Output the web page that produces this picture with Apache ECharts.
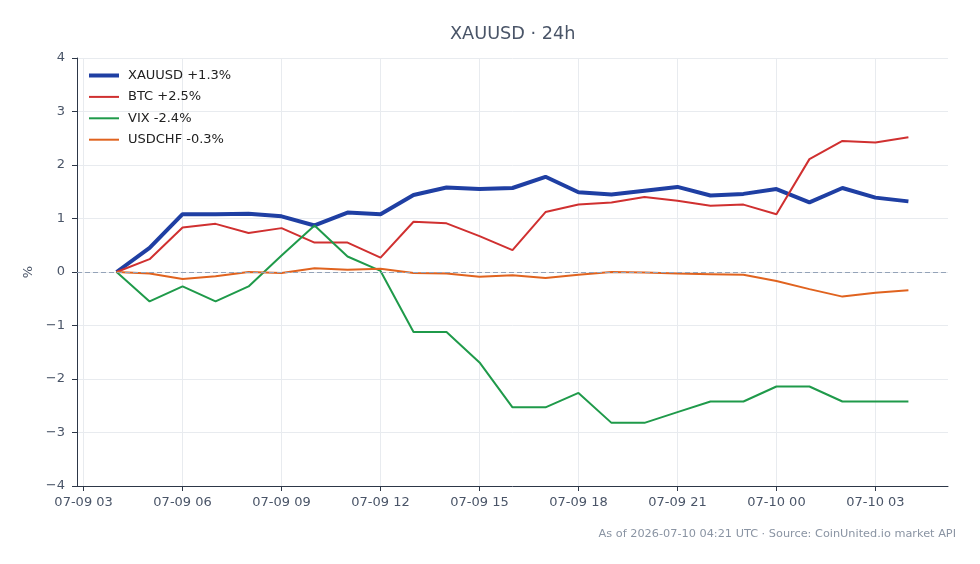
<!DOCTYPE html>
<html>
<head>
<meta charset="utf-8">
<script src="https://cdn.jsdelivr.net/npm/echarts@6/dist/echarts.min.js"></script>
<style>
  html, body { margin: 0; padding: 0; background: #fff; }
  #chart { width: 980px; height: 564px; }
</style>
</head>
<body>
<div id="chart"></div>
<script>
// hours since 07-09 00:00 UTC
var hours = [4, 5, 6, 7, 8, 9, 10, 11, 12, 13, 14, 15, 16, 17, 18, 19, 20, 21, 22, 23, 24, 25, 26, 27, 28];
var tickHours = [3, 6, 9, 12, 15, 18, 21, 24, 27];

var xauusd = [0, 0.45, 1.08, 1.08, 1.09, 1.04, 0.87, 1.11, 1.08, 1.44, 1.58, 1.55, 1.57, 1.78, 1.49, 1.45, 1.52, 1.59, 1.43, 1.46, 1.55, 1.30, 1.57, 1.39, 1.32];
var btc = [0, 0.24, 0.83, 0.90, 0.73, 0.82, 0.55, 0.55, 0.27, 0.94, 0.91, 0.67, 0.41, 1.12, 1.26, 1.30, 1.40, 1.33, 1.24, 1.26, 1.08, 2.11, 2.45, 2.42, 2.52];
var vix = [0, -0.55, -0.27, -0.55, -0.27, 0.31, 0.87, 0.29, 0.02, -1.12, -1.12, -1.69, -2.53, -2.53, -2.26, -2.82, -2.82, -2.62, -2.42, -2.42, -2.14, -2.14, -2.42, -2.42, -2.42];
var usdchf = [0, -0.03, -0.13, -0.08, 0.00, -0.02, 0.07, 0.04, 0.06, -0.02, -0.03, -0.09, -0.06, -0.11, -0.05, 0.00, -0.01, -0.03, -0.04, -0.05, -0.17, -0.32, -0.46, -0.39, -0.34];

var names = ["XAUUSD +1.3%", "BTC +2.5%", "VIX -2.4%", "USDCHF -0.3%"];
var colors = ["#1f3fa3", "#d03030", "#1f9a4a", "#e0631f"];
var widths = [4, 2, 2, 2];

function pairs(vals) {
  return vals.map(function (v, i) { return [hours[i], v]; });
}

function hourLabel(h) {
  var day = h < 24 ? "07-09" : "07-10";
  var hh = h % 24;
  return day + " " + (hh < 10 ? "0" + hh : hh);
}

var font = "DejaVu Sans";
var seriesData = [xauusd, btc, vix, usdchf];

var series = seriesData.map(function (vals, i) {
  var s = {
    name: names[i],
    type: "line",
    data: pairs(vals),
    symbol: "none",
    color: colors[i],
    lineStyle: { width: widths[i], color: colors[i] },
    animation: false
  };
  if (i === 0) {
    s.markLine = {
      silent: true,
      symbol: "none",
      label: { show: false },
      lineStyle: { color: "#94a3b8", type: [5, 3], width: 1 },
      data: [{ yAxis: 0 }]
    };
  }
  return s;
});

var legendData = names.map(function (n, i) {
  return { name: n, lineStyle: { width: widths[i], color: colors[i] } };
});

var chart = echarts.init(document.getElementById("chart"));
chart.setOption({
  backgroundColor: "#fff",
  animation: false,
  title: {
    text: "XAUUSD · 24h",
    left: 445,
    top: 20,
    textStyle: { fontFamily: font, fontSize: 17.7, fontWeight: "normal", color: "#4a5568" }
  },
  legend: {
    left: 87,
    top: 69,
    padding: 0,
    orient: "vertical",
    itemWidth: 30,
    itemHeight: 14,
    itemGap: 8.4,
    itemStyle: { opacity: 0 },
    textStyle: { fontFamily: font, fontSize: 13, color: "#222", padding: [0, 0, 0, 4] },
    data: legendData
  },
  grid: { left: 77, right: 32, top: 58, bottom: 78 },
  xAxis: {
    type: "value",
    min: 2.8,
    max: 29.2,
    axisLine: { show: true, onZero: false, lineStyle: { color: "#2d3748", width: 1 } },
    axisTick: { show: true, length: 5, lineStyle: { color: "#2d3748" }, customValues: tickHours },
    axisLabel: {
      customValues: tickHours,
      fontFamily: font, fontSize: 13, color: "#4a5568", margin: 10,
      formatter: function (v) { return hourLabel(v); }
    },
    splitLine: { show: true, lineStyle: { color: "#e8ebef", width: 1 } }
  },
  yAxis: {
    type: "value",
    min: -4,
    max: 4,
    interval: 1,
    name: "%",
    nameLocation: "middle",
    nameGap: 40,
    nameRotate: 90,
    nameTextStyle: { fontFamily: font, fontSize: 13, color: "#4a5568" },
    axisLine: { show: true, onZero: false, lineStyle: { color: "#2d3748", width: 1 } },
    axisTick: { show: true, length: 5, lineStyle: { color: "#2d3748" } },
    axisLabel: {
      fontFamily: font, fontSize: 13, color: "#4a5568", margin: 12,
      formatter: function (v) { return v < 0 ? "\u2212" + Math.abs(v) : String(v); }
    },
    splitLine: { show: true, lineStyle: { color: "#e8ebef", width: 1 } }
  },
  graphic: [{
    type: "text",
    right: 24,
    top: 529,
    style: {
      text: "As of 2026-07-10 04:21 UTC · Source: CoinUnited.io market API",
      fontFamily: font, fontSize: 11.3, fill: "#8a94a3"
    }
  }],
  series: series
});
</script>
</body>
</html>
